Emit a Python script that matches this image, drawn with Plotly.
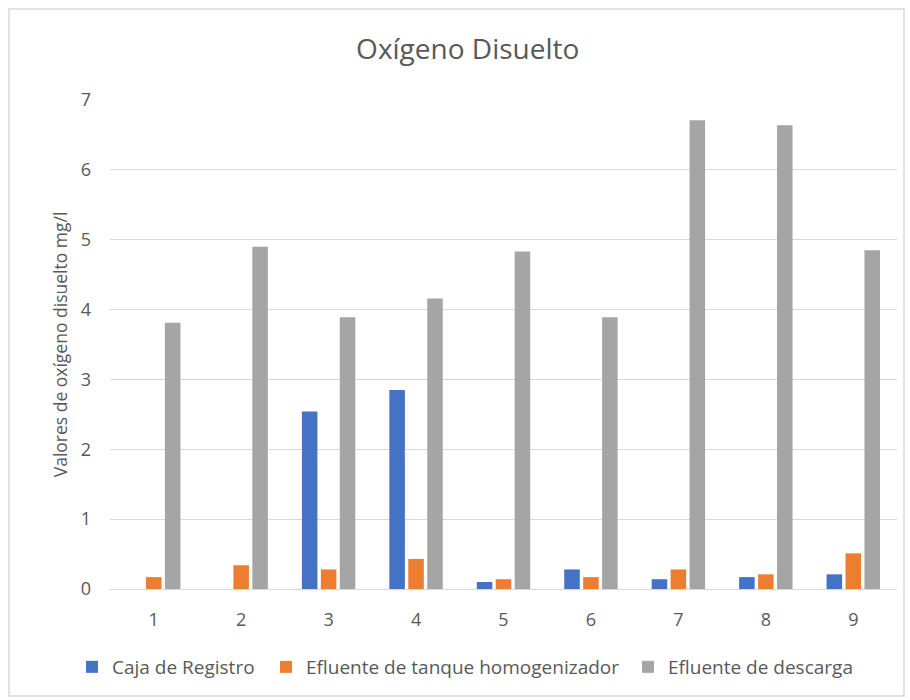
import plotly.graph_objects as go

categories = ["1", "2", "3", "4", "5", "6", "7", "8", "9"]
caja_registro = [None, None, 2.54, 2.85, 0.10, 0.28, 0.14, 0.17, 0.21]
efluente_tanque = [0.17, 0.34, 0.28, 0.43, 0.14, 0.17, 0.28, 0.21, 0.51]
efluente_descarga = [3.81, 4.90, 3.89, 4.16, 4.83, 3.89, 6.71, 6.64, 4.85]
y_ticks = [0, 1, 2, 3, 4, 5, 6, 7]

series = [
    ("Caja de Registro", caja_registro, "#4472C4", 149),
    ("Efluente de tanque homogenizador", efluente_tanque, "#ED7D31", 317),
    ("Efluente de descarga", efluente_descarga, "#A5A5A5", None),
]

FONT = "Open Sans"
TXT = "#595959"

fig = go.Figure()
for name, vals, color, lw in series:
    kw = {}
    if lw:
        kw["legendwidth"] = lw
    fig.add_trace(go.Bar(x=categories, y=vals, name=name, marker_color=color,
                         marker_line_width=0, **kw))

fig.update_layout(
    width=910, height=700,
    margin=dict(l=110, r=13, t=100, b=111),
    paper_bgcolor="white", plot_bgcolor="white",
    barmode="group", bargap=0.35, bargroupgap=0.18,
    font=dict(family=FONT, color=TXT, size=18),
    title=dict(text="Oxígeno Disuelto", x=0.514, xanchor="center",
               y=1 - 49 / 700, yanchor="middle",
               font=dict(family=FONT, size=28, color=TXT)),
    legend=dict(orientation="h", x=(72 - 110) / 787, xanchor="left",
                y=(589 - 667) / 489, yanchor="middle",
                font=dict(family=FONT, size=19, color=TXT),
                bgcolor="rgba(0,0,0,0)"),
    showlegend=True,
)
fig.update_xaxes(type="category", showgrid=False, showline=False, ticks="",
                 ticklabelstandoff=18, tickfont=dict(size=18, color=TXT),
                 zeroline=False)
fig.update_yaxes(range=[0, 7], tickvals=y_ticks, showgrid=True,
                 gridcolor="#D9D9D9", gridwidth=1, zeroline=True,
                 zerolinecolor="#D9D9D9", zerolinewidth=1, showline=False,
                 ticks="", ticklabelstandoff=18,
                 tickfont=dict(size=18, color=TXT),
                 title=dict(text="Valores de oxígeno disuelto mg/l", standoff=8,
                            font=dict(family=FONT, size=17.5, color=TXT)))

fig.add_shape(type="rect", xref="paper", yref="paper",
              x0=(9 - 110) / 787, x1=(904 - 110) / 787,
              y0=(589 - 696) / 489, y1=(589 - 9) / 489,
              line=dict(color="#D9D9D9", width=1.5), fillcolor="rgba(0,0,0,0)",
              layer="below")

fig.write_html("out.html")
